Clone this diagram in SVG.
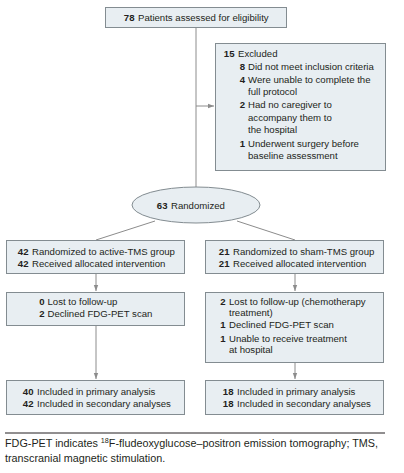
<svg xmlns="http://www.w3.org/2000/svg" width="404" height="473" viewBox="0 0 404 473">
<defs>
<marker id="ah" viewBox="0 0 6 6" refX="6" refY="3" markerWidth="6" markerHeight="6" orient="auto" markerUnits="userSpaceOnUse">
<path d="M0,0.8 L6,3 L0,5.2 Z" fill="#8c8c8c"/>
</marker>
<style>
.box{fill:#e8eef2;stroke:#838c91;stroke-width:1}
.t{font-family:"Liberation Sans",Arial,sans-serif;font-size:9.6px;fill:#231f20}
.n{font-family:"Liberation Sans",Arial,sans-serif;font-size:9.6px;fill:#231f20;font-weight:bold;text-anchor:end}
.c{fill:none;stroke:#8c8c8c;stroke-width:1}
.f{font-family:"Liberation Sans",Arial,sans-serif;font-size:10.8px;fill:#231f20}
</style>
</defs>
<rect width="404" height="473" fill="#ffffff"/>
<g id="connectors">
<line class="c" x1="196" y1="28" x2="196" y2="187"/>
<line class="c" x1="196" y1="106" x2="214" y2="106" marker-end="url(#ah)"/>
<line class="c" x1="155" y1="221" x2="96" y2="240"/>
<line class="c" x1="237" y1="221" x2="295" y2="240"/>
<line class="c" x1="96" y1="273" x2="96" y2="291" marker-end="url(#ah)"/>
<line class="c" x1="295" y1="273" x2="295" y2="291" marker-end="url(#ah)"/>
<line class="c" x1="96" y1="325" x2="96" y2="379" marker-end="url(#ah)"/>
<line class="c" x1="295" y1="362" x2="295" y2="379" marker-end="url(#ah)"/>
</g>
<g id="assessed">
<rect class="box" x="105.5" y="7.5" width="181" height="20"/>
<text class="n" x="134.5" y="21">78</text>
<text class="t" x="138" y="21">Patients assessed for eligibility</text>
</g>
<g id="excluded">
<rect class="box" x="215.5" y="43.5" width="170" height="127"/>
<text class="n" x="234.5" y="57">15</text><text class="t" x="238" y="57">Excluded</text>
<text class="n" x="245" y="70">8</text><text class="t" x="248" y="70">Did not meet inclusion criteria</text>
<text class="n" x="245" y="82.5">4</text><text class="t" x="248" y="82.5">Were unable to complete the</text>
<text class="t" x="248" y="95">full protocol</text>
<text class="n" x="245" y="108">2</text><text class="t" x="248" y="108">Had no caregiver to</text>
<text class="t" x="248" y="120.5">accompany them to</text>
<text class="t" x="248" y="132.5">the hospital</text>
<text class="n" x="245" y="146.5">1</text><text class="t" x="248" y="146.5">Underwent surgery before</text>
<text class="t" x="248" y="158.5">baseline assessment</text>
</g>
<g id="randomized">
<ellipse cx="196" cy="205" rx="64" ry="18" fill="#e8eef2" stroke="#838c91" stroke-width="1"/>
<text class="n" x="167.5" y="208.5">63</text>
<text class="t" x="171" y="208.5">Randomized</text>
</g>
<g id="active">
<rect class="box" x="6.5" y="240.5" width="178" height="33"/>
<text class="n" x="28.5" y="255">42</text><text class="t" x="32" y="255">Randomized to active-TMS group</text>
<text class="n" x="28.5" y="266.5">42</text><text class="t" x="32" y="266.5">Received allocated intervention</text>
</g>
<g id="sham">
<rect class="box" x="205.5" y="240.5" width="178" height="33"/>
<text class="n" x="229.5" y="255">21</text><text class="t" x="233" y="255">Randomized to sham-TMS group</text>
<text class="n" x="229.5" y="266.5">21</text><text class="t" x="233" y="266.5">Received allocated intervention</text>
</g>
<g id="active-followup">
<rect class="box" x="6.5" y="292.5" width="178" height="33"/>
<text class="n" x="44.5" y="305">0</text><text class="t" x="47.5" y="305">Lost to follow-up</text>
<text class="n" x="44.5" y="316.5">2</text><text class="t" x="47.5" y="316.5">Declined FDG-PET scan</text>
</g>
<g id="sham-followup">
<rect class="box" x="205.5" y="292.5" width="178" height="70"/>
<text class="n" x="225.5" y="305">2</text><text class="t" x="229" y="305">Lost to follow-up (chemotherapy</text>
<text class="t" x="229" y="316">treatment)</text>
<text class="n" x="225.5" y="328">1</text><text class="t" x="229" y="328">Declined FDG-PET scan</text>
<text class="n" x="225.5" y="342">1</text><text class="t" x="229" y="342">Unable to receive treatment</text>
<text class="t" x="229" y="353">at hospital</text>
</g>
<g id="active-analysis">
<rect class="box" x="6.5" y="380.5" width="178" height="34"/>
<text class="n" x="33.5" y="395">40</text><text class="t" x="37" y="395">Included in primary analysis</text>
<text class="n" x="33.5" y="406.5">42</text><text class="t" x="37" y="406.5">Included in secondary analyses</text>
</g>
<g id="sham-analysis">
<rect class="box" x="205.5" y="380.5" width="178" height="34"/>
<text class="n" x="233.5" y="395">18</text><text class="t" x="237" y="395">Included in primary analysis</text>
<text class="n" x="233.5" y="406.5">18</text><text class="t" x="237" y="406.5">Included in secondary analyses</text>
</g>
<g id="footer">
<line x1="5" y1="433" x2="385" y2="433" stroke="#231f20" stroke-width="1"/>
<text class="f" x="5" y="447">FDG-PET indicates <tspan font-size="7.2" dy="-4">18</tspan><tspan dy="4">F-fludeoxyglucose–positron emission tomography; TMS,</tspan></text>
<text class="f" x="5" y="462">transcranial magnetic stimulation.</text>
</g>
</svg>
